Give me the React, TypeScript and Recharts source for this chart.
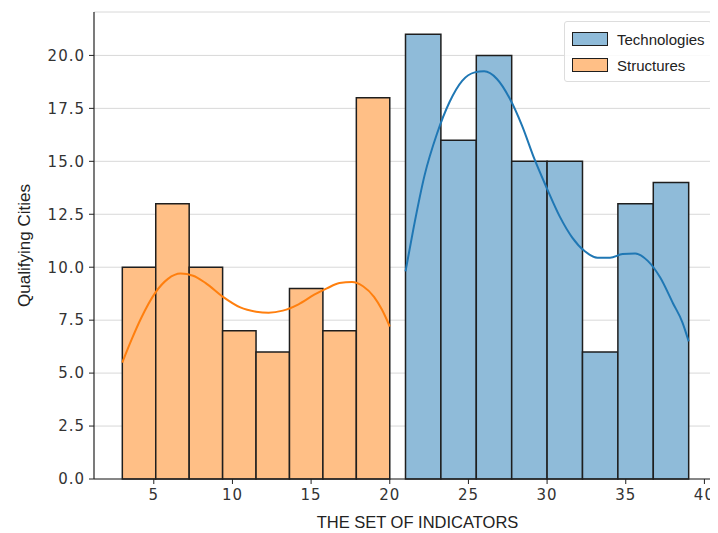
import { ComposedChart, Line, XAxis, YAxis, CartesianGrid, ReferenceArea } from 'recharts';

// histogram bins
const structEdges = [3, 5.125, 7.25, 9.375, 11.5, 13.625, 15.75, 17.875, 20];
const structCounts = [10, 13, 10, 7, 6, 9, 7, 18];
const techEdges = [21, 23.25, 25.5, 27.75, 30, 32.25, 34.5, 36.75, 39];
const techCounts = [21, 16, 20, 15, 15, 6, 13, 14];

// kde curves
const structKdeX = [3, 3.6, 4.2, 5.1, 5.9, 6.7, 7.5, 8.3, 9.4, 10.5, 11.5, 12.3, 13.2, 14.2, 15.2, 16.0, 16.8, 17.6, 18.3, 19.0, 19.5, 20];
const structKdeY = [5.5, 6.6, 7.6, 8.8, 9.45, 9.7, 9.6, 9.25, 8.6, 8.1, 7.9, 7.85, 7.95, 8.25, 8.7, 9.0, 9.25, 9.3, 9.1, 8.6, 8.0, 7.2];
const techKdeX = [21, 21.5, 22.2, 23.0, 23.8, 24.6, 25.4, 26.0, 26.8, 27.6, 28.4, 29.2, 30.0, 30.8, 31.6, 32.4, 33.2, 34.0, 34.8, 35.6, 36.4, 37.2, 38.0, 38.6, 39];
const techKdeY = [9.8, 11.8, 14.3, 16.3, 17.8, 18.8, 19.2, 19.25, 18.9, 18.0, 16.7, 15.1, 13.7, 12.4, 11.4, 10.75, 10.45, 10.45, 10.62, 10.65, 10.3, 9.5, 8.3, 7.4, 6.5];

const yTicks = [0, 2.5, 5, 7.5, 10, 12.5, 15, 17.5, 20];
const xTicks = [5, 10, 15, 20, 25, 30, 35, 40];

const BLUE = '#1f77b4';
const ORANGE = '#ff7f0e';
const BLUE_FILL = '#8fbbd9';
const ORANGE_FILL = '#ffbf86';
const EDGE = '#1e1e1e';
const TICK_FONT = { fontSize: 15, fill: '#333', fontFamily: 'DejaVu Sans', letterSpacing: 1 };

const structKde = structKdeX.map((x, i) => ({ x, y: structKdeY[i] }));
const techKde = techKdeX.map((x, i) => ({ x, y: techKdeY[i] }));

const XLabel = (props: any) => {
  const vb = props.viewBox;
  return (
    <text x={vb.x + vb.width / 2 + 12} y={528} textAnchor="middle" fontSize={16.5}
      fontFamily="Liberation Sans, Arial" fill="#222">THE SET OF INDICATORS</text>
  );
};

const YLabel = (props: any) => {
  const vb = props.viewBox;
  const cy = vb.y + vb.height / 2;
  return (
    <text x={24} y={cy} transform={`rotate(-90 24 ${cy})`} textAnchor="middle"
      dominantBaseline="central" fontSize={17} fontFamily="Liberation Sans, Arial" fill="#222">
      Qualifying Cities
    </text>
  );
};

const legendItems = [
  { name: 'Technologies', fill: BLUE_FILL },
  { name: 'Structures', fill: ORANGE_FILL },
];

const LegendBox = () => (
  <div style={{
    position: 'absolute', top: 21, left: 564, width: 148, boxSizing: 'border-box',
    border: '1px solid #ddd', borderRadius: 3, background: 'rgba(255,255,255,0.85)',
    padding: '4px 6px 3px 7px', fontFamily: 'Liberation Sans, Arial', fontSize: 15, color: '#222',
  }}>
    {legendItems.map((it) => (
      <div key={it.name} style={{ display: 'flex', alignItems: 'center', height: 26 }}>
        <div style={{ width: 34, height: 12, background: it.fill, border: `1.5px solid ${EDGE}`, marginRight: 9 }} />
        <span>{it.name}</span>
      </div>
    ))}
  </div>
);

export default function App() {
  return (
    <div style={{ position: 'relative', margin: '-8px 0 0 -8px', width: 718, height: 533, background: '#fff' }}>
      <ComposedChart width={718} height={533} margin={{ top: 12, right: 1, left: 0, bottom: 0 }}>
        <CartesianGrid vertical={false} stroke="#d8d8d8" strokeWidth={1} />
        <XAxis xAxisId="top" orientation="top" type="number" dataKey="x" domain={[1.2, 40.8]}
          allowDataOverflow tick={false} tickLine={false} height={0} axisLine={{ stroke: '#222', strokeWidth: 1.2 }} />
        <XAxis type="number" dataKey="x" domain={[1.2, 40.8]} allowDataOverflow ticks={xTicks}
          tick={TICK_FONT} tickSize={5} tickMargin={5} height={54}
          axisLine={{ stroke: '#222', strokeWidth: 1.2 }} tickLine={{ stroke: '#222' }}
          label={<XLabel />} />
        <YAxis type="number" domain={[0, 22.05]} allowDataOverflow ticks={yTicks}
          tickFormatter={(v: number) => v.toFixed(1)} tick={TICK_FONT} tickSize={5} tickMargin={4} width={94}
          axisLine={{ stroke: '#222', strokeWidth: 1.2 }} tickLine={{ stroke: '#222' }}
          label={<YLabel />} />
        {structCounts.map((c, i) => (
          <ReferenceArea key={`s${i}`} x1={structEdges[i]} x2={structEdges[i + 1]} y1={0} y2={c}
            fill={ORANGE_FILL} fillOpacity={1} stroke={EDGE} strokeWidth={1.5} />
        ))}
        {techCounts.map((c, i) => (
          <ReferenceArea key={`t${i}`} x1={techEdges[i]} x2={techEdges[i + 1]} y1={0} y2={c}
            fill={BLUE_FILL} fillOpacity={1} stroke={EDGE} strokeWidth={1.5} />
        ))}
        <Line data={structKde} dataKey="y" type="monotone" stroke={ORANGE} strokeWidth={2}
          dot={false} isAnimationActive={false} name="Structures KDE" />
        <Line data={techKde} dataKey="y" type="monotone" stroke={BLUE} strokeWidth={2}
          dot={false} isAnimationActive={false} name="Technologies KDE" />
      </ComposedChart>
      <LegendBox />
    </div>
  );
}
